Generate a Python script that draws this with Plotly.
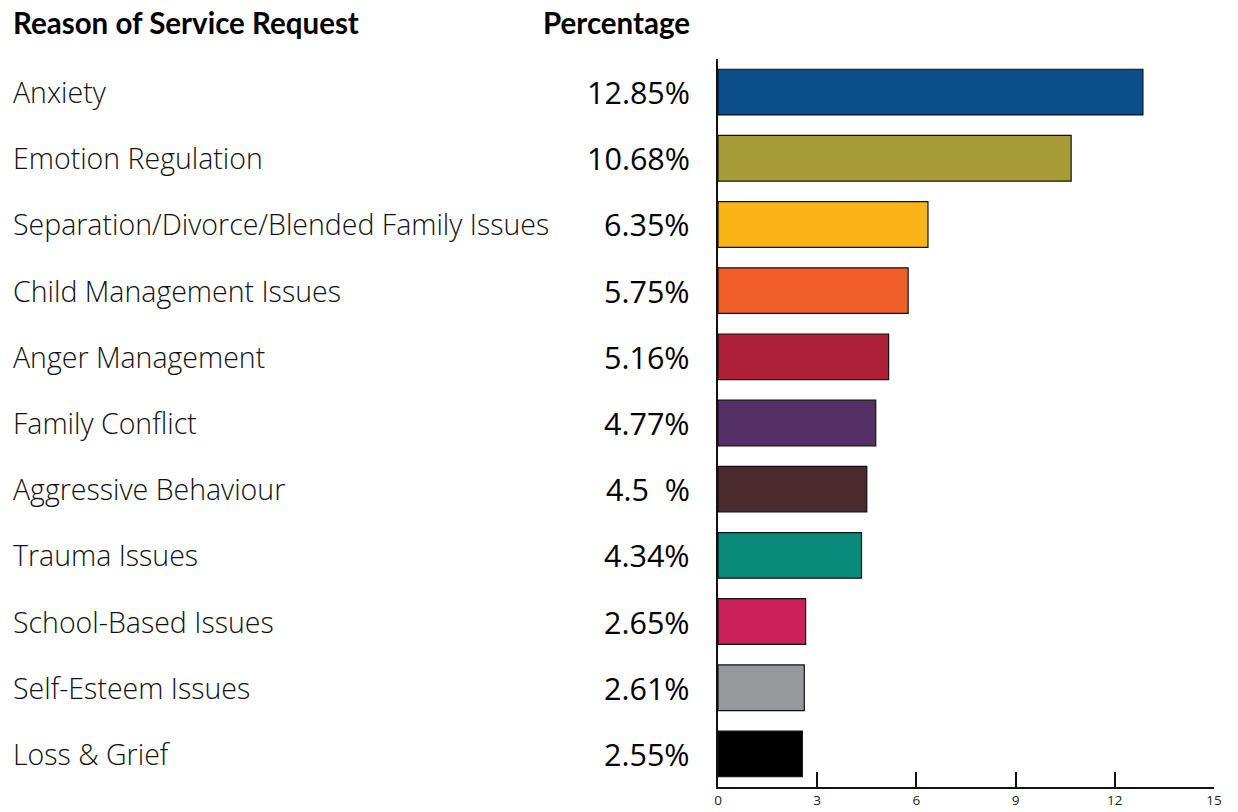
import plotly.graph_objects as go

categories = ["Anxiety", "Emotion Regulation", "Separation/Divorce/Blended Family Issues",
              "Child Management Issues", "Anger Management", "Family Conflict",
              "Aggressive Behaviour", "Trauma Issues", "School-Based Issues",
              "Self-Esteem Issues", "Loss & Grief"]
values = [12.85, 10.68, 6.35, 5.75, 5.16, 4.77, 4.5, 4.34, 2.65, 2.61, 2.55]
pct_labels = ["12.85%", "10.68%", "6.35%", "5.75%", "5.16%", "4.77%", "4.5  %",
              "4.34%", "2.65%", "2.61%", "2.55%"]
colors = ["#0B4F8A", "#A89C38", "#FBB416", "#F05F2A", "#AE1F38", "#553066",
          "#4A2A2C", "#0A8A78", "#CB2059", "#97989C", "#000000"]
tick_vals = [0, 3, 6, 9, 12, 15]

W, H = 1238, 812
ml, mr, mt, mb = 718, 24, 59, 25
pw = W - ml - mr
ph = H - mt - mb

fig = go.Figure(go.Bar(
    x=values, y=categories, orientation="h",
    marker=dict(color=colors, line=dict(color="#111111", width=1.2)),
    width=0.69, hoverinfo="x+y",
))

def px_to_paper_x(px):
    return (px - ml) / pw

def px_to_paper_y(py):
    return 1 - (py - mt) / ph

annotations = []
for cat, lab in zip(categories, pct_labels):
    annotations.append(dict(
        x=px_to_paper_x(11), xref="paper", y=cat, yref="y",
        text=cat, showarrow=False, xanchor="left", yanchor="middle",
        font=dict(family="Open Sans", size=28.5, color="#111111", weight=300),
    ))
    annotations.append(dict(
        x=px_to_paper_x(692), xref="paper", y=cat, yref="y",
        text=lab.replace(" ", "&nbsp;"), showarrow=False, xanchor="right", yanchor="middle",
        font=dict(family="Open Sans", size=30.5, color="#000000"),
    ))

annotations.append(dict(
    x=px_to_paper_x(11), xref="paper", y=px_to_paper_y(23), yref="paper",
    text="<b>Reason of Service Request</b>", showarrow=False, xanchor="left", yanchor="middle",
    font=dict(family="Lato", size=29.5, color="#000000"),
))
annotations.append(dict(
    x=px_to_paper_x(692), xref="paper", y=px_to_paper_y(23), yref="paper",
    text="<b>Percentage</b>", showarrow=False, xanchor="right", yanchor="middle",
    font=dict(family="Lato", size=29.5, color="#000000"),
))

fig.update_layout(
    width=W, height=H,
    margin=dict(l=ml, r=mr, t=mt, b=mb, pad=0, autoexpand=False),
    paper_bgcolor="white", plot_bgcolor="white",
    showlegend=False,
    annotations=annotations,
    xaxis=dict(range=[0, 15], tickvals=tick_vals, ticks="inside", ticklen=15,
               tickwidth=2, tickcolor="#111111", showline=True, linewidth=2,
               linecolor="#111111", showgrid=False, zeroline=False, automargin=False,
               tickfont=dict(family="Open Sans", size=13.5, color="#222222")),
    yaxis=dict(categoryorder="array", categoryarray=categories, autorange="reversed",
               showticklabels=False, ticks="", showline=True, linewidth=2,
               linecolor="#111111", showgrid=False, zeroline=False, automargin=False),
)

fig.write_html("out.html", config={"displayModeBar": False},
               post_script="document.body.style.margin='0';document.body.style.overflow='hidden';")
